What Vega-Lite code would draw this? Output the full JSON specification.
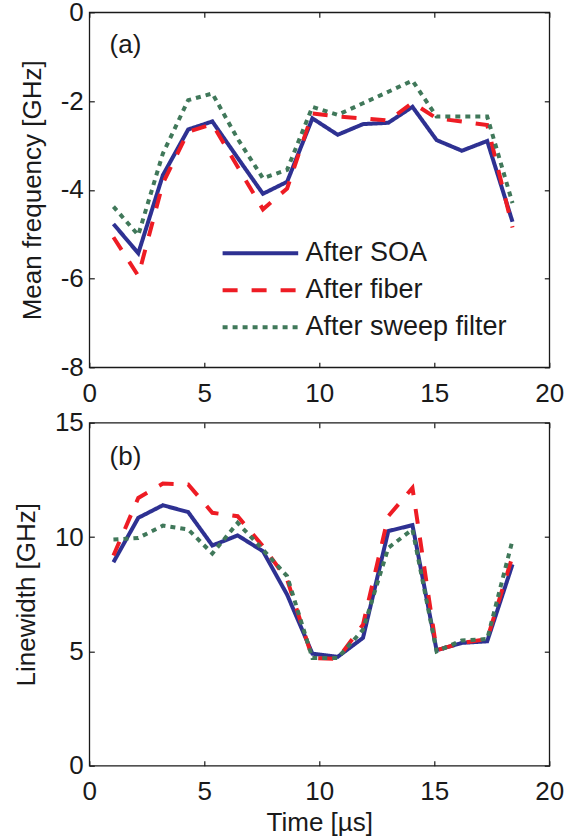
{
  "$schema": "https://vega.github.io/schema/vega-lite/v6.json",
  "autosize": {"type": "none"},
  "padding": {"left": 89.3, "top": 12.3, "right": 475.7, "bottom": 827.7},
  "datasets": {
    "series": [
      {"t": 1.05, "s": "After SOA", "f": -4.77, "w": 8.90},
      {"t": 2.13, "s": "After SOA", "f": -5.43, "w": 10.84},
      {"t": 3.2, "s": "After SOA", "f": -3.67, "w": 11.39},
      {"t": 4.3, "s": "After SOA", "f": -2.64, "w": 11.09},
      {"t": 5.35, "s": "After SOA", "f": -2.46, "w": 9.63},
      {"t": 6.45, "s": "After SOA", "f": -3.28, "w": 10.07},
      {"t": 7.55, "s": "After SOA", "f": -4.09, "w": 9.38},
      {"t": 8.6, "s": "After SOA", "f": -3.82, "w": 7.48},
      {"t": 9.7, "s": "After SOA", "f": -2.39, "w": 4.90},
      {"t": 10.8, "s": "After SOA", "f": -2.76, "w": 4.76},
      {"t": 11.9, "s": "After SOA", "f": -2.52, "w": 5.59},
      {"t": 13.0, "s": "After SOA", "f": -2.49, "w": 10.26},
      {"t": 14.05, "s": "After SOA", "f": -2.13, "w": 10.52},
      {"t": 15.1, "s": "After SOA", "f": -2.88, "w": 5.05},
      {"t": 16.2, "s": "After SOA", "f": -3.12, "w": 5.37},
      {"t": 17.3, "s": "After SOA", "f": -2.90, "w": 5.44},
      {"t": 18.4, "s": "After SOA", "f": -4.72, "w": 8.80},
      {"t": 1.05, "s": "After fiber", "f": -5.07, "w": 9.19},
      {"t": 2.13, "s": "After fiber", "f": -5.94, "w": 11.71},
      {"t": 3.2, "s": "After fiber", "f": -3.85, "w": 12.34},
      {"t": 4.3, "s": "After fiber", "f": -2.69, "w": 12.30},
      {"t": 5.35, "s": "After fiber", "f": -2.52, "w": 11.06},
      {"t": 6.45, "s": "After fiber", "f": -3.48, "w": 10.91},
      {"t": 7.55, "s": "After fiber", "f": -4.44, "w": 9.60},
      {"t": 8.6, "s": "After fiber", "f": -3.97, "w": 8.14},
      {"t": 9.7, "s": "After fiber", "f": -2.28, "w": 4.71},
      {"t": 10.8, "s": "After fiber", "f": -2.35, "w": 4.67},
      {"t": 11.9, "s": "After fiber", "f": -2.39, "w": 6.17},
      {"t": 13.0, "s": "After fiber", "f": -2.44, "w": 10.91},
      {"t": 14.05, "s": "After fiber", "f": -2.04, "w": 12.15},
      {"t": 15.1, "s": "After fiber", "f": -2.39, "w": 5.05},
      {"t": 16.2, "s": "After fiber", "f": -2.46, "w": 5.37},
      {"t": 17.3, "s": "After fiber", "f": -2.54, "w": 5.54},
      {"t": 18.4, "s": "After fiber", "f": -4.85, "w": 9.16},
      {"t": 1.05, "s": "After sweep filter", "f": -4.38, "w": 9.89},
      {"t": 2.13, "s": "After sweep filter", "f": -5.02, "w": 9.96},
      {"t": 3.2, "s": "After sweep filter", "f": -3.18, "w": 10.50},
      {"t": 4.3, "s": "After sweep filter", "f": -1.98, "w": 10.33},
      {"t": 5.35, "s": "After sweep filter", "f": -1.83, "w": 9.28},
      {"t": 6.45, "s": "After sweep filter", "f": -2.85, "w": 10.62},
      {"t": 7.55, "s": "After sweep filter", "f": -3.74, "w": 9.45},
      {"t": 8.6, "s": "After sweep filter", "f": -3.55, "w": 8.29},
      {"t": 9.7, "s": "After sweep filter", "f": -2.13, "w": 4.71},
      {"t": 10.8, "s": "After sweep filter", "f": -2.31, "w": 4.71},
      {"t": 11.9, "s": "After sweep filter", "f": -2.05, "w": 5.95},
      {"t": 13.0, "s": "After sweep filter", "f": -1.79, "w": 9.53},
      {"t": 14.05, "s": "After sweep filter", "f": -1.54, "w": 10.33},
      {"t": 15.1, "s": "After sweep filter", "f": -2.35, "w": 5.00},
      {"t": 16.2, "s": "After sweep filter", "f": -2.35, "w": 5.48},
      {"t": 17.3, "s": "After sweep filter", "f": -2.35, "w": 5.54},
      {"t": 18.4, "s": "After sweep filter", "f": -4.30, "w": 9.86}
    ]
  },
  "bounds": "flush",
  "spacing": 55.4,
  "vconcat": [
    {
      "width": 460,
      "height": 355,
      "resolve": {"axis": {"x": "independent", "y": "independent"}},
      "layer": [
        {
          "data": {"name": "series"},
          "mark": {"type": "line", "strokeWidth": 4, "strokeCap": "butt"},
          "encoding": {
            "x": {"field": "t", "type": "quantitative", "scale": {"domain": [0, 20], "nice": false, "zero": false}, "axis": {"orient": "bottom", "values": [0, 5, 10, 15, 20], "title": null}},
            "y": {"field": "f", "type": "quantitative", "scale": {"domain": [-8, 0], "nice": false, "zero": false}, "axis": {"orient": "left", "values": [-8, -6, -4, -2, 0], "title": "Mean frequency [GHz]", "titleX": -49.3, "titleBaseline": "alphabetic", "labelExpr": "'' + datum.value"}},
            "color": {"field": "s", "type": "nominal", "scale": {"domain": ["After SOA", "After fiber", "After sweep filter"], "range": ["#2e3192", "#ee1c24", "#40785a"]}, "legend": {"title": null}},
            "strokeDash": {"field": "s", "type": "nominal", "scale": {"domain": ["After SOA", "After fiber", "After sweep filter"], "range": [[1, 0], [15, 14], [5, 5]]}, "legend": {"title": null}}
          }
        },
        {
          "data": {"values": [{"panel": "(a)"}]},
          "mark": {"type": "text", "fontSize": 26, "align": "left", "baseline": "alphabetic", "color": "#1a1a1a"},
          "encoding": {
            "text": {"field": "panel", "type": "nominal"},
            "x": {"datum": 0.88, "type": "quantitative", "scale": {"domain": [0, 20], "nice": false, "zero": false}, "axis": {"orient": "top", "values": [0, 5, 10, 15, 20], "labels": false, "title": null}},
            "y": {"datum": -0.913, "type": "quantitative", "scale": {"domain": [-8, 0], "nice": false, "zero": false}, "axis": {"orient": "right", "values": [-8, -6, -4, -2, 0], "labels": false, "title": null}}
          }
        }
      ]
    },
    {
      "width": 460,
      "height": 343,
      "resolve": {"axis": {"x": "independent", "y": "independent"}},
      "layer": [
        {
          "data": {"name": "series"},
          "mark": {"type": "line", "strokeWidth": 4, "strokeCap": "butt"},
          "encoding": {
            "x": {"field": "t", "type": "quantitative", "scale": {"domain": [0, 20], "nice": false, "zero": false}, "axis": {"orient": "bottom", "values": [0, 5, 10, 15, 20], "title": "Time [µs]", "titleY": 64.6, "titleBaseline": "alphabetic"}},
            "y": {"field": "w", "type": "quantitative", "scale": {"domain": [0, 15], "nice": false, "zero": false}, "axis": {"orient": "left", "values": [0, 5, 10, 15], "title": "Linewidth [GHz]", "titleX": -55.3, "titleBaseline": "alphabetic"}},
            "color": {"field": "s", "type": "nominal", "scale": {"domain": ["After SOA", "After fiber", "After sweep filter"], "range": ["#2e3192", "#ee1c24", "#40785a"]}, "legend": {"title": null}},
            "strokeDash": {"field": "s", "type": "nominal", "scale": {"domain": ["After SOA", "After fiber", "After sweep filter"], "range": [[1, 0], [15, 14], [5, 5]]}, "legend": {"title": null}}
          }
        },
        {
          "data": {"values": [{"panel": "(b)"}]},
          "mark": {"type": "text", "fontSize": 26, "align": "left", "baseline": "alphabetic", "color": "#1a1a1a"},
          "encoding": {
            "text": {"field": "panel", "type": "nominal"},
            "x": {"datum": 0.88, "type": "quantitative", "scale": {"domain": [0, 20], "nice": false, "zero": false}, "axis": {"orient": "top", "values": [0, 5, 10, 15, 20], "labels": false, "title": null}},
            "y": {"datum": 13.17, "type": "quantitative", "scale": {"domain": [0, 15], "nice": false, "zero": false}, "axis": {"orient": "right", "values": [0, 5, 10, 15], "labels": false, "title": null}}
          }
        }
      ]
    }
  ],
  "config": {
    "font": "Liberation Sans",
    "view": {"stroke": "#1a1a1a", "strokeWidth": 1.3},
    "axis": {"grid": false, "domain": false, "ticks": true, "tickSize": -5, "tickColor": "#1a1a1a", "tickWidth": 1.2, "labelFontSize": 26, "labelColor": "#1a1a1a", "labelFont": "Liberation Sans", "titleFont": "Liberation Sans", "titleFontSize": 26, "titleFontWeight": "normal", "titleColor": "#1a1a1a", "labelFlush": false, "labelOverlap": false},
    "axisX": {"labelPadding": 18},
    "axisY": {"labelPadding": 11},
    "legend": {"orient": "none", "legendX": 131.1, "legendY": 222.5, "symbolType": "stroke", "symbolSize": 5715, "symbolStrokeWidth": 4, "labelFontSize": 27, "labelFont": "Liberation Sans", "labelColor": "#1a1a1a", "labelOffset": 5, "labelLimit": 400, "clipHeight": 37, "rowPadding": 0, "padding": 0}
  }
}
